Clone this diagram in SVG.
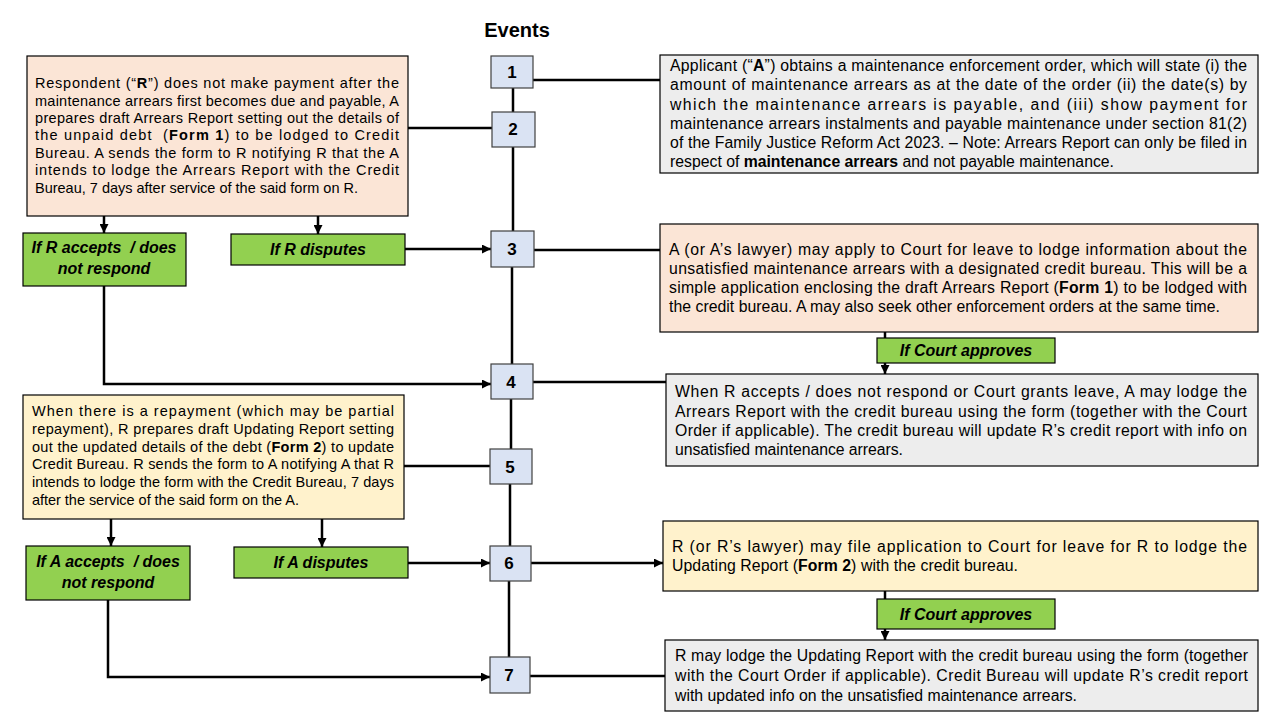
<svg xmlns="http://www.w3.org/2000/svg" width="1280" height="720" viewBox="0 0 1280 720">
<defs>
<marker id="ah" viewBox="0 0 10 10" refX="10" refY="5" markerUnits="userSpaceOnUse" markerWidth="9" markerHeight="9" orient="auto">
<path d="M0,0 L10,5 L0,10 z" fill="#000"/>
</marker>
<style>
.box{stroke:#000;stroke-width:1.2}
.peach{fill:#FBE5D6}
.yellow{fill:#FFF2CC}
.gray{fill:#EDEDED}
.green{fill:#92D050;stroke:#000;stroke-width:1.2}
.ev{fill:#DAE3F3;stroke:#404040;stroke-width:1.2}
.evt{font-family:"Liberation Sans",Arial,sans-serif;font-weight:bold;font-size:17px;text-anchor:middle;fill:#000}
.lt{font-family:"Liberation Sans",Arial,sans-serif;font-size:14.5px;fill:#000}
.rt{font-family:"Liberation Sans",Arial,sans-serif;font-size:15.8px;fill:#000}
.gt{font-family:"Liberation Sans",Arial,sans-serif;font-weight:bold;font-style:italic;font-size:16px;text-anchor:middle;fill:#000}
.title{font-family:"Liberation Sans",Arial,sans-serif;font-weight:bold;font-size:20px;text-anchor:middle;fill:#000}
.b{font-weight:bold}
.pre{white-space:pre}
.ln{fill:none;stroke:#000;stroke-width:2.5}
</style>
</defs>
<rect width="1280" height="720" fill="#fff"/>
<text class="title" x="517" y="37">Events</text>

<g id="connectors">
<path class="ln" d="M513,88 V112 M513,147 V231 M512,267 V364 M511,399 V449 M510,484 V546 M509,581 V657"/>
<path class="ln" d="M533,80 H660"/>
<path class="ln" d="M408,128 H492"/>
<path class="ln" d="M104,216 V233" marker-end="url(#ah)"/>
<path class="ln" d="M318,216 V234" marker-end="url(#ah)"/>
<path class="ln" d="M405,249 H491" marker-end="url(#ah)"/>
<path class="ln" d="M104,286 V384 H491" marker-end="url(#ah)"/>
<path class="ln" d="M534,250 H660"/>
<path class="ln" d="M885,332 V374" marker-end="url(#ah)"/>
<path class="ln" d="M533,382 H666"/>
<path class="ln" d="M404,466 H490"/>
<path class="ln" d="M111,519 V546" marker-end="url(#ah)"/>
<path class="ln" d="M322,519 V547" marker-end="url(#ah)"/>
<path class="ln" d="M408,563 H490" marker-end="url(#ah)"/>
<path class="ln" d="M531,563 H663" marker-end="url(#ah)"/>
<path class="ln" d="M885,591 V640" marker-end="url(#ah)"/>
<path class="ln" d="M108,600 V677 H490" marker-end="url(#ah)"/>
<path class="ln" d="M530,676 H665"/>
</g>

<g id="ev1"><rect class="ev" x="491" y="56" width="42" height="32"/><text class="evt" x="512" y="78">1</text></g>
<g id="ev2"><rect class="ev" x="492" y="112" width="43" height="35"/><text class="evt" x="513" y="135">2</text></g>
<g id="ev3"><rect class="ev" x="491" y="231" width="43" height="36"/><text class="evt" x="512" y="255">3</text></g>
<g id="ev4"><rect class="ev" x="491" y="364" width="42" height="35"/><text class="evt" x="511" y="388">4</text></g>
<g id="ev5"><rect class="ev" x="490" y="449" width="42" height="35"/><text class="evt" x="510" y="473">5</text></g>
<g id="ev6"><rect class="ev" x="490" y="546" width="41" height="35"/><text class="evt" x="509" y="569">6</text></g>
<g id="ev7"><rect class="ev" x="490" y="657" width="40" height="36"/><text class="evt" x="509" y="681">7</text></g>

<g id="respondent-no-payment">
<rect class="box peach" x="27" y="56" width="381" height="160"/>
<text class="lt" x="35" y="88" textLength="364" lengthAdjust="spacing">Respondent (“<tspan class="b">R</tspan>”) does not make payment after the</text>
<text class="lt" x="35" y="106" textLength="364" lengthAdjust="spacing">maintenance arrears first becomes due and payable, A</text>
<text class="lt" x="35" y="123" textLength="364" lengthAdjust="spacing">prepares draft Arrears Report setting out the details of</text>
<text class="lt pre" x="35" y="140" textLength="364" lengthAdjust="spacing">the unpaid debt  (<tspan class="b">Form 1</tspan>) to be lodged to Credit</text>
<text class="lt" x="35" y="158" textLength="364" lengthAdjust="spacing">Bureau. A sends the form to R notifying R that the A</text>
<text class="lt" x="35" y="175" textLength="364" lengthAdjust="spacing">intends to lodge the Arrears Report with the Credit</text>
<text class="lt" x="35" y="193" textLength="323" lengthAdjust="spacing">Bureau, 7 days after service of the said form on R.</text>
</g>

<g id="r-accepts">
<rect class="green" x="23" y="233" width="163" height="53"/>
<text class="gt pre" x="104" y="253">If R accepts  / does</text>
<text class="gt" x="104" y="274">not respond</text>
</g>
<g id="r-disputes">
<rect class="green" x="231" y="234" width="174" height="31"/>
<text class="gt" x="318" y="255">If R disputes</text>
</g>

<g id="applicant-order">
<rect class="box gray" x="660" y="55" width="598" height="118"/>
<text class="rt" x="670" y="71" textLength="577" lengthAdjust="spacing">Applicant (“<tspan class="b">A</tspan>”) obtains a maintenance enforcement order, which will state (i) the</text>
<text class="rt" x="670" y="90" textLength="577" lengthAdjust="spacing">amount of maintenance arrears as at the date of the order (ii) the date(s) by</text>
<text class="rt" x="670" y="110" textLength="577" lengthAdjust="spacing">which the maintenance arrears is payable, and (iii) show payment for</text>
<text class="rt" x="670" y="129" textLength="577" lengthAdjust="spacing">maintenance arrears instalments and payable maintenance under section 81(2)</text>
<text class="rt" x="670" y="148" textLength="577" lengthAdjust="spacing">of the Family Justice Reform Act 2023. – Note: Arrears Report can only be filed in</text>
<text class="rt" x="670" y="167" textLength="444" lengthAdjust="spacing">respect of <tspan class="b">maintenance arrears</tspan> and not payable maintenance.</text>
</g>

<g id="apply-court-leave">
<rect class="box peach" x="660" y="224" width="598" height="108"/>
<text class="rt" x="669" y="255" textLength="578" lengthAdjust="spacing">A (or A’s lawyer) may apply to Court for leave to lodge information about the</text>
<text class="rt" x="669" y="274" textLength="578" lengthAdjust="spacing">unsatisfied maintenance arrears with a designated credit bureau. This will be a</text>
<text class="rt" x="669" y="293" textLength="578" lengthAdjust="spacing">simple application enclosing the draft Arrears Report (<tspan class="b">Form 1</tspan>) to be lodged with</text>
<text class="rt" x="669" y="312" textLength="551" lengthAdjust="spacing">the credit bureau. A may also seek other enforcement  orders at the same time.</text>
</g>

<g id="court-approves-1">
<rect class="green" x="877" y="338" width="178" height="25"/>
<text class="gt" x="966" y="356">If Court approves</text>
</g>

<g id="lodge-arrears">
<rect class="box gray" x="666" y="374" width="592" height="92"/>
<text class="rt" x="675" y="397" textLength="572" lengthAdjust="spacing">When R accepts / does not respond or Court grants leave, A may lodge the</text>
<text class="rt" x="675" y="417" textLength="572" lengthAdjust="spacing">Arrears Report with the credit bureau using the form (together with the Court</text>
<text class="rt" x="675" y="436" textLength="572" lengthAdjust="spacing">Order if applicable). The credit bureau will update R’s credit report with info on</text>
<text class="rt" x="675" y="455" textLength="228" lengthAdjust="spacing">unsatisfied maintenance arrears.</text>
</g>

<g id="repayment">
<rect class="box yellow" x="23" y="395" width="381" height="124"/>
<text class="lt" x="32" y="416" textLength="362" lengthAdjust="spacing">When there is a repayment (which may be partial</text>
<text class="lt" x="32" y="434" textLength="362" lengthAdjust="spacing">repayment), R prepares draft Updating Report setting</text>
<text class="lt" x="32" y="452" textLength="362" lengthAdjust="spacing">out the updated details of the debt (<tspan class="b">Form 2</tspan>) to update</text>
<text class="lt" x="32" y="469" textLength="362" lengthAdjust="spacing">Credit Bureau. R sends the form to A notifying A that R</text>
<text class="lt" x="32" y="487" textLength="362" lengthAdjust="spacing">intends to lodge the form with the Credit Bureau, 7 days</text>
<text class="lt" x="32" y="505" textLength="267" lengthAdjust="spacing">after the service of the said form on the A.</text>
</g>

<g id="a-accepts">
<rect class="green" x="26" y="546" width="164" height="54"/>
<text class="gt pre" x="108" y="567">If A accepts  / does</text>
<text class="gt" x="108" y="588">not respond</text>
</g>
<g id="a-disputes">
<rect class="green" x="234" y="547" width="174" height="31"/>
<text class="gt" x="321" y="568">If A disputes</text>
</g>

<g id="r-apply-court">
<rect class="box yellow" x="663" y="521" width="595" height="70"/>
<text class="rt" x="672" y="552" textLength="575" lengthAdjust="spacing">R (or R’s lawyer) may file application to Court for leave for R to lodge the</text>
<text class="rt" x="672" y="571" textLength="346" lengthAdjust="spacing">Updating Report (<tspan class="b">Form 2</tspan>) with the credit bureau.</text>
</g>

<g id="court-approves-2">
<rect class="green" x="877" y="599" width="178" height="30"/>
<text class="gt" x="966" y="620">If Court approves</text>
</g>

<g id="lodge-updating">
<rect class="box gray" x="665" y="640" width="593" height="71"/>
<text class="rt" x="675" y="661" textLength="573" lengthAdjust="spacing">R may lodge the Updating Report with the credit bureau using the form (together</text>
<text class="rt" x="675" y="681" textLength="573" lengthAdjust="spacing">with the Court Order if applicable). Credit Bureau will update R’s credit report</text>
<text class="rt" x="675" y="701" textLength="402" lengthAdjust="spacing">with updated info on the unsatisfied maintenance arrears.</text>
</g>
</svg>
